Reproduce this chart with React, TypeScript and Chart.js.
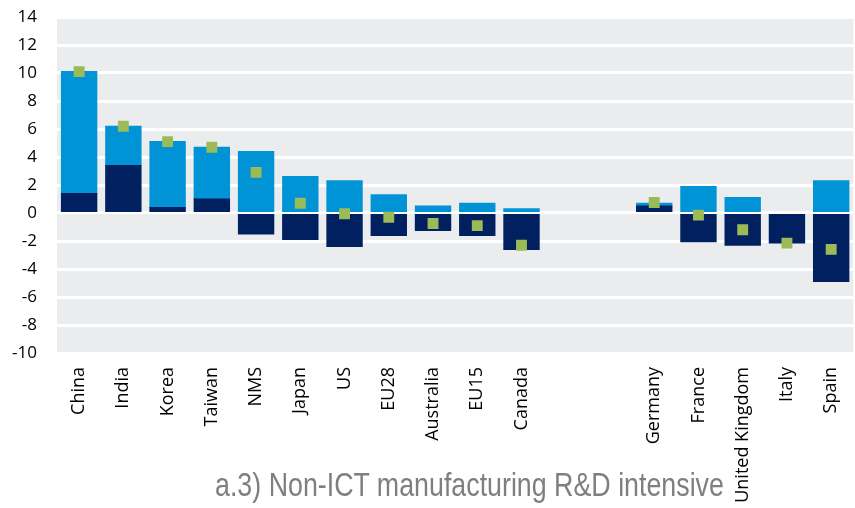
import React, { useEffect, useRef } from "react";
import { Chart, registerables } from "chart.js";

Chart.register(...registerables);

const categories = [
  "China", "India", "Korea", "Taiwan", "NMS", "Japan", "US", "EU28", "Australia", "EU15", "Canada",
  "", "",
  "Germany", "France", "United Kingdom", "Italy", "Spain",
];
const darkValues = [1.4, 3.4, 0.4, 1.0, -1.5, -1.9, -2.4, -1.6, -1.25, -1.6, -2.6, null, null, 0.5, -2.05, -2.3, -2.15, -4.9];
const lightValues = [8.7, 2.8, 4.7, 3.7, 4.4, 2.6, 2.3, 1.3, 0.5, 0.7, 0.3, null, null, 0.2, 1.9, 1.1, null, 2.3];
const totalValues = [10.1, 6.2, 5.1, 4.7, 2.9, 0.7, -0.05, -0.3, -0.75, -0.9, -2.3, null, null, 0.75, -0.15, -1.2, -2.15, -2.6];
const yMin = -10;
const yMax = 14;
const yStep = 2;
const titleText = "a.3) Non-ICT manufacturing R&D intensive";

const plotBackground = {
  id: "plotBackground",
  beforeDraw(chart: any) {
    const { ctx, chartArea } = chart;
    if (!chartArea) return;
    ctx.save();
    ctx.fillStyle = "#EBECEE";
    ctx.fillRect(chartArea.left, chartArea.top, chartArea.right - chartArea.left, chartArea.bottom - chartArea.top);
    ctx.restore();
  },
};

export default function App() {
  const canvasRef = useRef<HTMLCanvasElement | null>(null);

  useEffect(() => {
    if (!canvasRef.current) return;
    const chart = new Chart(canvasRef.current, {
      type: "bar",
      data: {
        labels: categories,
        datasets: [
          {
            type: "line",
            label: "Total",
            data: totalValues,
            showLine: false,
            stack: "total",
            pointStyle: "rect",
            pointRadius: 7.7,
            pointHoverRadius: 7.7,
            pointBackgroundColor: "#9BBB59",
            pointBorderWidth: 0,
            borderColor: "#9BBB59",
            order: 0,
          } as any,
          {
            type: "bar",
            label: "Dark",
            data: darkValues,
            backgroundColor: "#002060",
            borderWidth: 0,
            inflateAmount: 0.5,
            stack: "bars",
            barPercentage: 0.8,
            categoryPercentage: 1.0,
            order: 1,
          },
          {
            type: "bar",
            label: "Light",
            data: lightValues,
            backgroundColor: "#0094D6",
            borderWidth: 0,
            inflateAmount: 0.5,
            stack: "bars",
            barPercentage: 0.8,
            categoryPercentage: 1.0,
            order: 1,
          },
        ],
      },
      options: {
        animation: false,
        responsive: true,
        maintainAspectRatio: false,
        layout: { padding: { top: 17, left: 0, right: 0, bottom: 0 } },
        plugins: {
          legend: { display: false },
          tooltip: { enabled: false },
          title: { display: false },
        },
        scales: {
          x: {
            stacked: true,
            grid: { display: false, drawTicks: false },
            border: { display: false },
            ticks: {
              autoSkip: false,
              minRotation: 90,
              maxRotation: 90,
              padding: 14,
              color: "#000000",
              font: { family: "'Open Sans'", size: 18 },
            },
            afterFit(scale: any) {
              scale.height = 155;
              scale.paddingLeft = 0;
              scale.paddingRight = 0;
            },
          },
          y: {
            stacked: true,
            min: yMin,
            max: yMax,
            grid: { color: "#FFFFFF", lineWidth: 3, drawTicks: false },
            border: { display: false },
            ticks: {
              stepSize: yStep,
              padding: 20,
              color: "#000000",
              font: { family: "'Open Sans'", size: 17 },
            },
            afterFit(scale: any) {
              scale.width = 57;
              scale.paddingTop = 0;
              scale.paddingBottom = 0;
            },
          },
        },
      },
      plugins: [plotBackground],
    });
    return () => chart.destroy();
  }, []);

  return (
    <div
      style={{
        position: "fixed",
        left: 0,
        top: 0,
        width: 855,
        height: 508,
        overflow: "hidden",
        background: "#FFFFFF",
      }}
    >
      <div style={{ position: "absolute", left: 0, top: 0, width: 861, height: 508 }}>
        <canvas ref={canvasRef} />
      </div>
      <div
        style={{
          position: "absolute",
          left: 215,
          top: 468,
          fontFamily: "'Liberation Sans', Arial, sans-serif",
          fontSize: 33.5,
          lineHeight: "33.5px",
          color: "#7F7F7F",
          whiteSpace: "nowrap",
          transform: "scaleX(0.8)",
          transformOrigin: "left top",
        }}
      >
        {titleText}
      </div>
    </div>
  );
}
